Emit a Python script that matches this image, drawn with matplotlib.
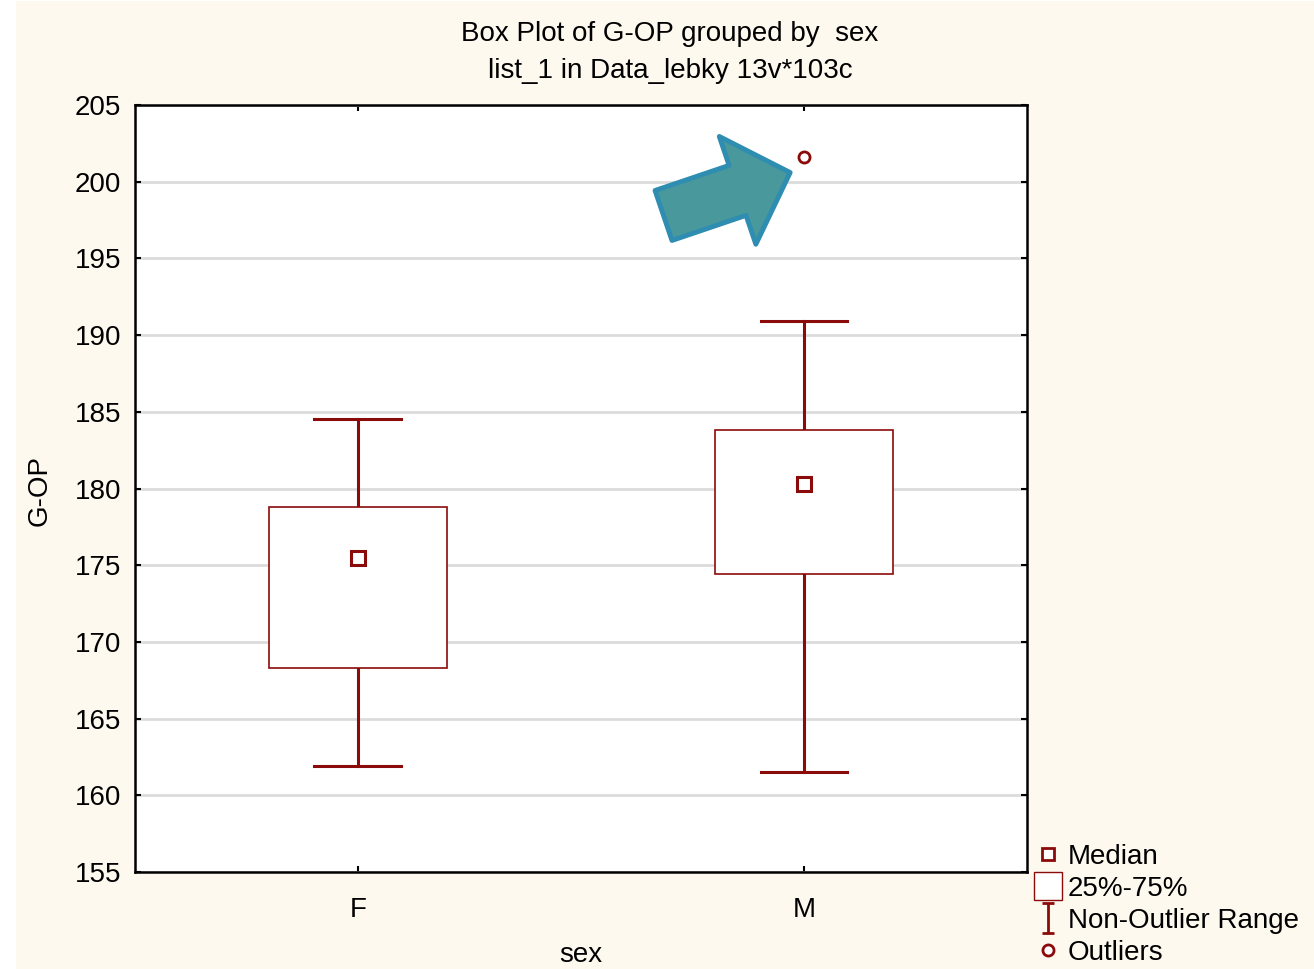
import matplotlib
matplotlib.use("Agg")
import matplotlib.pyplot as plt
from matplotlib.lines import Line2D
from matplotlib.patches import Rectangle
from matplotlib.path import Path

plt.rcParams["font.family"] = ["Liberation Sans", "DejaVu Sans"]

# data
groups = ["F", "M"]
whisker_lo = [161.9, 161.5]
q1 = [168.3, 174.4]
median = [175.5, 180.3]
q3 = [178.8, 183.8]
whisker_hi = [184.5, 190.9]
outliers = [[], [201.6]]
yticks = [155, 160, 165, 170, 175, 180, 185, 190, 195, 200, 205]

RED = "#8b0a0a"
CREAM = "#fef9ef"
FS = 20

fig = plt.figure(figsize=(13.14, 9.69), dpi=100)
fig.patch.set_facecolor("white")
fig.patches.append(Rectangle((16 / 1314, 0), 1, 968 / 969, transform=fig.transFigure,
                             facecolor=CREAM, edgecolor="none", zorder=-10))

ax = fig.add_axes([0.1027, 0.1001, 0.6789, 0.7915])
ax.set_facecolor("white")

box_w, cap_w = 0.40, 0.195
for i, g in enumerate(groups):
    x = i + 1
    # whiskers
    ax.plot([x, x], [q3[i], whisker_hi[i]], color=RED, lw=2.2, zorder=3)
    ax.plot([x, x], [whisker_lo[i], q1[i]], color=RED, lw=2.2, zorder=3)
    ax.plot([x - cap_w / 2, x + cap_w / 2], [whisker_hi[i]] * 2, color=RED, lw=2.2, zorder=3)
    ax.plot([x - cap_w / 2, x + cap_w / 2], [whisker_lo[i]] * 2, color=RED, lw=2.2, zorder=3)
    # box
    ax.add_patch(Rectangle((x - box_w / 2, q1[i]), box_w, q3[i] - q1[i],
                           facecolor="white", edgecolor=RED, lw=1.2, zorder=4))
    # median
    ax.plot([x], [median[i]], marker="s", ms=10, mfc="white", mec=RED, mew=2.2, zorder=5)
    for o in outliers[i]:
        ax.plot([x], [o], marker="o", ms=8, mfc="white", mec=RED, mew=2, zorder=5)

# pointer arrow towards the outlier
ax.annotate("", xy=(1.969, 200.6), xytext=(1.685, 197.8),
            arrowprops=dict(arrowstyle="simple,head_length=1.0,head_width=2.05,tail_width=0.95",
                            mutation_scale=40, fc="#48989c", ec="#2e8db0", lw=3.5,
                            shrinkA=0, shrinkB=0), zorder=6)

ax.set_xlim(0.5, 2.5)
ax.set_ylim(155, 205)
ax.set_xticks([1, 2])
ax.set_xticklabels(groups)
ax.set_yticks(yticks)
ax.yaxis.grid(True, color="#dcdcdc", lw=2)
ax.set_axisbelow(True)
ax.tick_params(axis="y", direction="in", length=4, width=1.5, left=True, right=True,
               labelsize=FS, pad=10)
ax.tick_params(axis="x", direction="in", length=4, width=1.5, top=True,
               labelsize=FS, pad=18)
for s in ax.spines.values():
    s.set_linewidth(1.8)
    s.set_color("black")

fig.text(581 / 1314, 1 - 955 / 969, "sex", fontsize=FS, ha="center", va="center")
fig.text(40 / 1314, 1 - 490 / 969, "G-OP", rotation=90, fontsize=FS, ha="center", va="center")
fig.text(670 / 1314, 1 - 34 / 969, "Box Plot of G-OP grouped by  sex", fontsize=FS,
         ha="center", va="center")
fig.text(670 / 1314, 1 - 71 / 969, "list_1 in Data_lebky 13v*103c", fontsize=FS,
         ha="center", va="center")

# legend
ibeam = Path([(-0.4, -1), (0.4, -1), (0, -1), (0, 1), (-0.4, 1), (0.4, 1)],
             [Path.MOVETO, Path.LINETO, Path.MOVETO, Path.LINETO, Path.MOVETO, Path.LINETO])
handles = [
    Line2D([], [], ls="none", marker="s", ms=9, mfc="white", mec=RED, mew=2),
    Line2D([], [], ls="none", marker="s", ms=20, mfc="white", mec=RED, mew=1),
    Line2D([], [], ls="none", marker=ibeam, ms=22, mec=RED, mew=2),
    Line2D([], [], ls="none", marker="o", ms=8, mfc="white", mec=RED, mew=2),
]
labels = ["Median", "25%-75%", "Non-Outlier Range", "Outliers"]
fig.legend(handles, labels, loc="lower left", bbox_to_anchor=(1036 / 1314, 0.003),
           frameon=False, fontsize=FS, handlelength=0.85, handletextpad=0.3,
           labelspacing=0.22, borderaxespad=0.0, borderpad=0.0)

fig.savefig("out.png", dpi=100, facecolor="white")
